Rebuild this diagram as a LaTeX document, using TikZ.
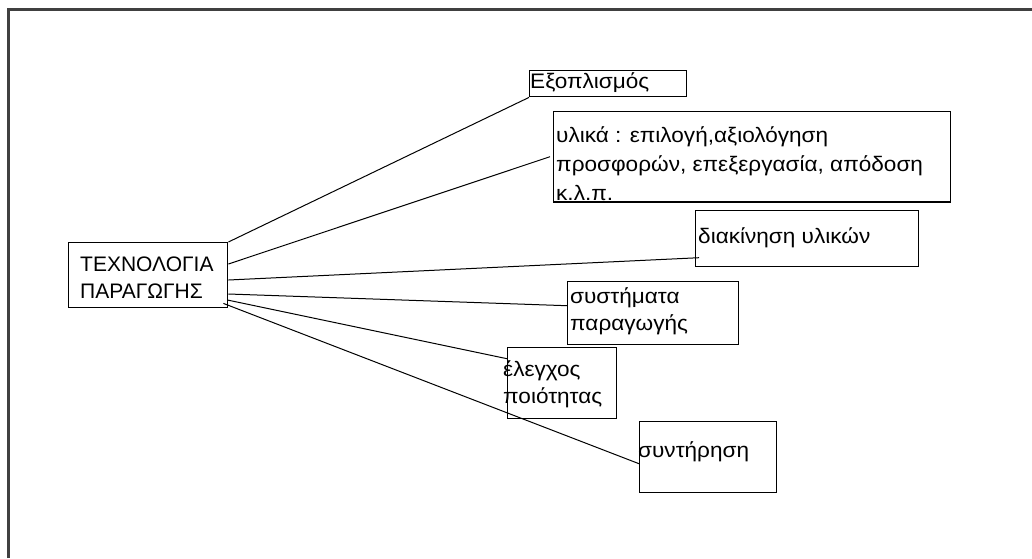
\documentclass[tikz,border=0pt]{standalone}
\usepackage{fontspec}
\setmainfont{Liberation Sans}
\newfontfamily\widefont[FakeStretch=1.075]{Liberation Sans}
\begin{document}
\begin{tikzpicture}[x=1pt,y=-1pt,
  box/.style={draw=black, line width=1.4pt, fill=white, inner sep=0pt, anchor=north west},
  txt/.style={inner sep=0pt, anchor=base west, font=\fontsize{21}{27}\selectfont},
  wtxt/.style={txt, font=\widefont\fontsize{21}{27}\selectfont},
  conn/.style={draw=black, line width=1pt}]
\useasboundingbox (0,0) rectangle (1032,558);
\fill[white] (0,0) rectangle (1032,558);
% outer frame (clipped on right and bottom)
\coordinate (fbl) at (8.5,558);
\coordinate (ftl) at (8.5,9.5);
\coordinate (ftr) at (1032,9.5);
\draw[line width=2.5pt, color=black!75] (fbl) -- (ftl) -- (ftr);
% boxes (empty frames)
\node[box, minimum width=159pt, minimum height=65pt] (c) at (68,242) {};
\node[box, minimum width=157pt, minimum height=26pt] (eq) at (529,70) {};
\node[box, minimum width=397pt, minimum height=90pt] (ul) at (553,111) {};
\node[box, minimum width=223pt, minimum height=56pt] (dk) at (695,210) {};
\node[box, minimum width=171pt, minimum height=63pt] (sp) at (567,281) {};
\node[box, minimum width=109pt, minimum height=71pt] (ep) at (507,347) {};
\node[box, minimum width=137pt, minimum height=71pt] (sy) at (639,421) {};
% connectors
\draw[conn] (c.north east) -- (eq.south west);
\draw[conn] ([yshift=-22pt]c.north east) -- ([xshift=-3pt]ul.west);
\draw[conn] ([yshift=-38pt]c.north east) -- ([yshift=-19pt,xshift=4pt]dk.west);
\draw[conn] ([yshift=-52pt]c.north east) -- ([yshift=7.5pt]sp.west);
\draw[conn] ([yshift=-58pt,xshift=-1pt]c.north east) -- ([yshift=24.5pt]ep.west);
\draw[conn] ([yshift=5pt,xshift=-5pt]c.south east) -- ([yshift=-6.5pt]sy.west);
% texts
\node[txt] (t1) at (80,271) {ΤΕΧΝΟΛΟΓΙΑ};
\node[txt] (t2) at (80,298) {ΠΑΡΑΓΩΓΗΣ};
\node[wtxt] (t3) at (530,88) {Εξοπλισμός};
\node[wtxt] (t4) at (556,142) {υλικά : επιλογή,αξιολόγηση};
\node[wtxt] (t5) at (556,171) {προσφορών, επεξεργασία, απόδοση};
\node[wtxt] (t6) at (556,200) {κ.λ.π.};
\node[wtxt] (t7) at (698,243) {διακίνηση υλικών};
\node[wtxt] (t8) at (570,303) {συστήματα};
\node[wtxt] (t9) at (570,330) {παραγωγής};
\node[wtxt] (t10) at (503,376) {έλεγχος};
\node[wtxt] (t11) at (503,403) {ποιότητας};
\node[wtxt] (t12) at (638,457) {συντήρηση};
\draw[line width=1.4pt] (ul.south west) -- (ul.south east);
\end{tikzpicture}
\end{document}
